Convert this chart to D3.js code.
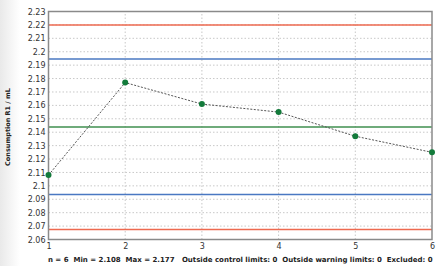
<!DOCTYPE html>
<html>
<head>
<meta charset="utf-8">
<script src="https://cdn.jsdelivr.net/npm/d3@7"></script>
<style>
  body { margin: 0; background: #fff; }
  svg { display: block; font-family: "DejaVu Sans", Verdana, sans-serif; }
</style>
</head>
<body>
<svg width="444" height="266"></svg>
<script>
// Control chart data
const runs = [1, 2, 3, 4, 5, 6];
const values = [2.108, 2.177, 2.161, 2.155, 2.137, 2.125];
const yTicks = [2.06, 2.07, 2.08, 2.09, 2.1, 2.11, 2.12, 2.13, 2.14, 2.15, 2.16, 2.17, 2.18, 2.19, 2.2, 2.21, 2.22, 2.23];
const controlLimits = [2.0675, 2.2199];   // red
const warningLimits = [2.0935, 2.1945];   // blue
const centerLine = 2.1438;                // green
const caption = "n = 6  Min = 2.108  Max = 2.177   Outside control limits: 0  Outside warning limits: 0  Excluded: 0";

const svg = d3.select("svg"),
    width = +svg.attr("width"),
    height = +svg.attr("height");

const margin = {top: 11.5, right: 12, bottom: 26.5, left: 48.5};

// faint shading on the left edge
const defs = svg.append("defs");
const grad = defs.append("linearGradient").attr("id", "bg").attr("x1", 0).attr("x2", 1);
grad.append("stop").attr("offset", 0).attr("stop-color", "#e9e9e9");
grad.append("stop").attr("offset", 1).attr("stop-color", "#fff");
svg.append("rect").attr("width", 20).attr("height", height).attr("fill", "url(#bg)");

const x = d3.scaleLinear().domain([1, 6]).range([margin.left, width - margin.right]);
const y = d3.scaleLinear().domain([2.06, 2.23]).range([height - margin.bottom, margin.top]);

// Grid
const grid = svg.append("g").attr("stroke", "#c8c8c8").attr("stroke-dasharray", "1.5,2");
grid.selectAll(".hg").data(yTicks.slice(1, -1)).enter().append("line")
    .attr("x1", x(1)).attr("x2", x(6))
    .attr("y1", d => y(d)).attr("y2", d => y(d));
grid.selectAll(".vg").data(runs.slice(1, -1)).enter().append("line")
    .attr("x1", d => x(d)).attr("x2", d => x(d))
    .attr("y1", y(2.06)).attr("y2", y(2.23));

// Limit lines
function hline(v, color) {
    svg.append("line")
        .attr("x1", x(1)).attr("x2", x(6))
        .attr("y1", y(v)).attr("y2", y(v))
        .attr("stroke", color).attr("stroke-width", 1.5);
}
controlLimits.forEach(v => hline(v, "#ee6a50"));
warningLimits.forEach(v => hline(v, "#4a78c2"));
hline(centerLine, "#3f8f4f");

// Frame
svg.append("rect")
    .attr("x", x(1)).attr("y", y(2.23))
    .attr("width", x(6) - x(1)).attr("height", y(2.06) - y(2.23))
    .attr("fill", "none").attr("stroke", "#8a8a8a").attr("stroke-width", 1.5);

// Axes
const yAxis = svg.append("g")
    .attr("transform", "translate(" + x(1) + ",0)")
    .call(d3.axisLeft(y).tickValues(yTicks).tickSize(0).tickPadding(3).tickFormat(d => d3.format("~r")(d3.format(".2f")(d))));
const xAxis = svg.append("g")
    .attr("transform", "translate(0," + y(2.06) + ")")
    .call(d3.axisBottom(x).tickValues(runs).tickSize(0).tickPadding(4).tickFormat(d3.format("d")));
[yAxis, xAxis].forEach(a => {
    a.select(".domain").remove();
    a.selectAll("text").attr("font-size", 8).attr("fill", "#333").attr("font-family", "DejaVu Sans");
});

// Data line and points
const line = d3.line().x((d, i) => x(runs[i])).y(d => y(d));
svg.append("path")
    .datum(values)
    .attr("d", line)
    .attr("fill", "none")
    .attr("stroke", "#555")
    .attr("stroke-width", 1)
    .attr("stroke-dasharray", "2,1.5");

svg.selectAll(".pt").data(values).enter().append("circle")
    .attr("cx", (d, i) => x(runs[i]))
    .attr("cy", d => y(d))
    .attr("r", 3)
    .attr("fill", "#127a3a");

// Y label
svg.append("text")
    .attr("transform", "translate(10," + 127 + ") rotate(-90)")
    .attr("text-anchor", "middle")
    .attr("font-size", 6.5)
    .attr("font-weight", "bold")
    .attr("fill", "#222")
    .text("Consumption R1 / mL");

// Caption
svg.append("text")
    .attr("x", (x(1) + x(6)) / 2)
    .attr("y", 262)
    .attr("text-anchor", "middle")
    .attr("font-size", 7)
    .attr("font-weight", "bold")
    .attr("fill", "#222")
    .attr("xml:space", "preserve")
    .style("white-space", "pre")
    .text(caption);
</script>
</body>
</html>
